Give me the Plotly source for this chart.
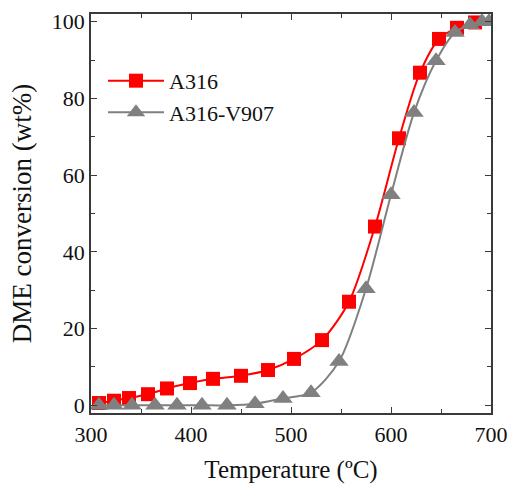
import plotly.graph_objects as go

# DME conversion vs temperature for two catalysts
temp_a316 = [308, 323, 338, 357, 376, 399, 422, 450, 477, 503, 531, 558, 584, 608, 629, 648, 666, 684]
conv_a316 = [0.6, 1.2, 1.9, 2.9, 4.4, 5.8, 6.9, 7.7, 9.2, 12.1, 17.0, 27.0, 46.6, 69.6, 86.7, 95.5, 98.4, 99.8]

temp_v907 = [308, 323, 341, 364, 386, 411, 436, 464, 492, 520, 548, 575, 600, 623, 645, 664, 679, 691, 698]
conv_v907 = [0, 0, 0, 0, 0, 0, 0, 0.4, 1.8, 3.3, 11.4, 30.4, 54.9, 76.3, 89.8, 97.2, 99.2, 100, 100]

x_ticks = [300, 400, 500, 600, 700]
y_ticks = [0, 20, 40, 60, 80, 100]

FONT = "Liberation Serif"
AXIS_COLOR = "#3a3a3a"
TEXT_COLOR = "#111111"

fig = go.Figure()
fig.add_trace(go.Scatter(
    x=temp_a316, y=conv_a316, name="A316", mode="lines+markers", legendgroup="a",
    line=dict(color="#ff0000", width=2, shape="spline", smoothing=0.8),
    marker=dict(symbol="square", size=14, color="#ff0000"),
))
fig.add_trace(go.Scatter(
    x=temp_v907, y=conv_v907, name="A316-V907", mode="lines+markers", legendgroup="b",
    line=dict(color="#808080", width=2, shape="spline", smoothing=0.8),
    marker=dict(symbol="triangle-up", size=17, color="#808080"),
))

axis_common = dict(
    showline=True, linecolor=AXIS_COLOR, linewidth=1.5, mirror="allticks",
    ticks="inside", ticklen=6, tickwidth=1.2, tickcolor=AXIS_COLOR,
    showgrid=False, zeroline=False, automargin=False,
    tickfont=dict(family=FONT, size=22, color=TEXT_COLOR),
)

fig.update_xaxes(
    range=[300, 700], tickvals=x_ticks, ticktext=[str(v) for v in x_ticks],
    minor=dict(dtick=50, ticks="inside", ticklen=4, tickcolor=AXIS_COLOR, showgrid=False),
    ticklabelstandoff=1,
    title=dict(text="Temperature (ºC)", font=dict(family=FONT, size=25, color=TEXT_COLOR), standoff=24),
    **axis_common,
)
fig.update_yaxes(
    range=[-2, 102], tickvals=y_ticks, ticktext=[str(v) for v in y_ticks],
    minor=dict(dtick=10, ticks="inside", ticklen=4, tickcolor=AXIS_COLOR, showgrid=False),
    title=dict(text="DME conversion (wt%)", font=dict(family=FONT, size=27, color=TEXT_COLOR), standoff=12),
    **axis_common,
)

fig.update_layout(
    width=510, height=484,
    margin=dict(l=91, r=19, t=14, b=71),
    plot_bgcolor="white", paper_bgcolor="white",
    legend=dict(
        x=0.03, y=0.885, xanchor="left", yanchor="top",
        font=dict(family=FONT, size=22, color=TEXT_COLOR),
        bgcolor="rgba(0,0,0,0)", itemwidth=56, tracegroupgap=0,
    ),
)

fig.write_html("out.html")
